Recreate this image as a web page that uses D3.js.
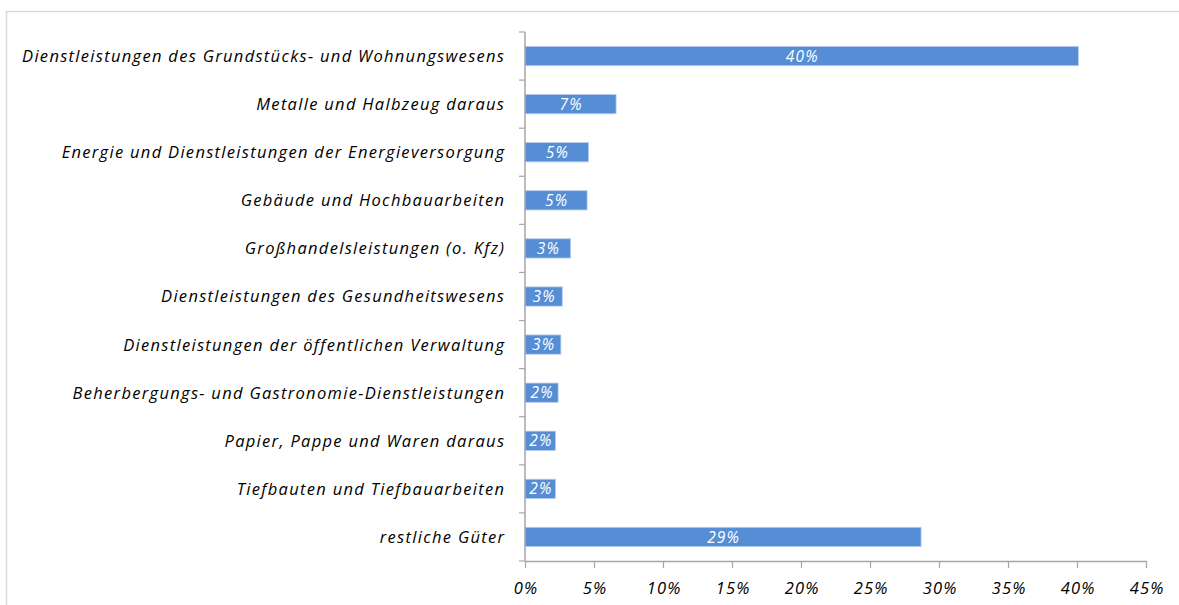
<!DOCTYPE html>
<html>
<head>
<meta charset="utf-8">
<script src="https://cdn.jsdelivr.net/npm/d3@7"></script>
<style>
  html, body { margin: 0; padding: 0; background: #fff; }
  svg { display: block; }
  text { font-family: "Open Sans", Lato, sans-serif; font-style: italic; }
</style>
</head>
<body>
<svg id="chart" width="1179" height="605"></svg>
<script>
// Shares of goods categories (percent)
const categories = [
  "Dienstleistungen des Grundstücks- und Wohnungswesens",
  "Metalle und Halbzeug daraus",
  "Energie und Dienstleistungen der Energieversorgung",
  "Gebäude und Hochbauarbeiten",
  "Großhandelsleistungen (o. Kfz)",
  "Dienstleistungen des Gesundheitswesens",
  "Dienstleistungen der öffentlichen Verwaltung",
  "Beherbergungs- und Gastronomie-Dienstleistungen",
  "Papier, Pappe und Waren daraus",
  "Tiefbauten und Tiefbauarbeiten",
  "restliche Güter"
];
const shares = [40.1, 6.6, 4.6, 4.5, 3.3, 2.7, 2.6, 2.4, 2.2, 2.2, 28.7];
const xTicks = [0, 5, 10, 15, 20, 25, 30, 35, 40, 45];

const svg = d3.select("#chart");
const axisColor = "#a6a6a6";

// outer frame
svg.append("rect")
  .attr("x", 6.5).attr("y", 11.5)
  .attr("width", 1200).attr("height", 640)
  .attr("fill", "none").attr("stroke", "#d9d9d9").attr("stroke-width", 1.5);

const plotLeft = 525, plotRight = 1146, plotTop = 32, plotBottom = 561;

const x = d3.scaleLinear().domain([0, 45]).range([plotLeft, plotRight]);
const y = d3.scaleBand().domain(categories).range([plotTop, plotBottom])
  .paddingInner(0.6).paddingOuter(0.3);

// bars
const barG = svg.append("g");
barG.selectAll("rect").data(categories).join("rect")
  .attr("x", x(0))
  .attr("y", d => y(d))
  .attr("width", (d, i) => x(shares[i]) - x(0))
  .attr("height", y.bandwidth())
  .attr("fill", "#558ed5")
  .attr("stroke", "#b4cbed")
  .attr("stroke-width", 0.8);

// value labels inside bars
barG.selectAll("text").data(categories).join("text")
  .attr("x", (d, i) => (x(0) + x(shares[i])) / 2 + 0.6)
  .attr("y", d => y(d) + y.bandwidth() / 2)
  .attr("dy", "0.36em")
  .attr("text-anchor", "middle")
  .attr("fill", "#fff")
  .attr("font-size", 15.5)
  .attr("letter-spacing", 1.2)
  .text((d, i) => Math.round(shares[i]) + "%");

// y axis: line, ticks on category boundaries, category labels
const yAxis = svg.append("g");
yAxis.append("line")
  .attr("x1", plotLeft).attr("x2", plotLeft).attr("y1", plotTop).attr("y2", plotBottom)
  .attr("stroke", axisColor).attr("stroke-width", 1.5);
const bandH = (plotBottom - plotTop) / categories.length;
const bounds = d3.range(categories.length + 1).map(i => plotTop + i * bandH);
yAxis.selectAll("line.tick").data(bounds).join("line")
  .attr("class", "tick")
  .attr("x1", plotLeft - 6).attr("x2", plotLeft)
  .attr("y1", d => d).attr("y2", d => d)
  .attr("stroke", axisColor).attr("stroke-width", 1.2);
yAxis.selectAll("text").data(categories).join("text")
  .attr("x", 505.3)
  .attr("y", d => y(d) + y.bandwidth() / 2)
  .attr("dy", "0.36em")
  .attr("text-anchor", "end")
  .attr("fill", "#000")
  .attr("font-size", 16.5)
  .attr("letter-spacing", 1.3)
  .text(d => d);

// x axis
const xAxis = svg.append("g").attr("transform", `translate(0,${plotBottom})`)
  .call(d3.axisBottom(x).tickValues(xTicks).tickSize(7).tickSizeOuter(0)
    .tickFormat(d => d + "%"));
xAxis.select(".domain").attr("stroke", axisColor).attr("stroke-width", 1.5);
xAxis.selectAll(".tick line").attr("stroke", axisColor).attr("stroke-width", 1.2);
xAxis.selectAll(".tick text")
  .attr("x", 0.6)
  .attr("y", 27)
  .attr("dy", "0.36em")
  .attr("fill", "#000")
  .attr("font-size", 16.5)
  .attr("letter-spacing", 1.2)
  .style("font-family", "'Open Sans', sans-serif")
  .style("font-style", "italic");
</script>
</body>
</html>
